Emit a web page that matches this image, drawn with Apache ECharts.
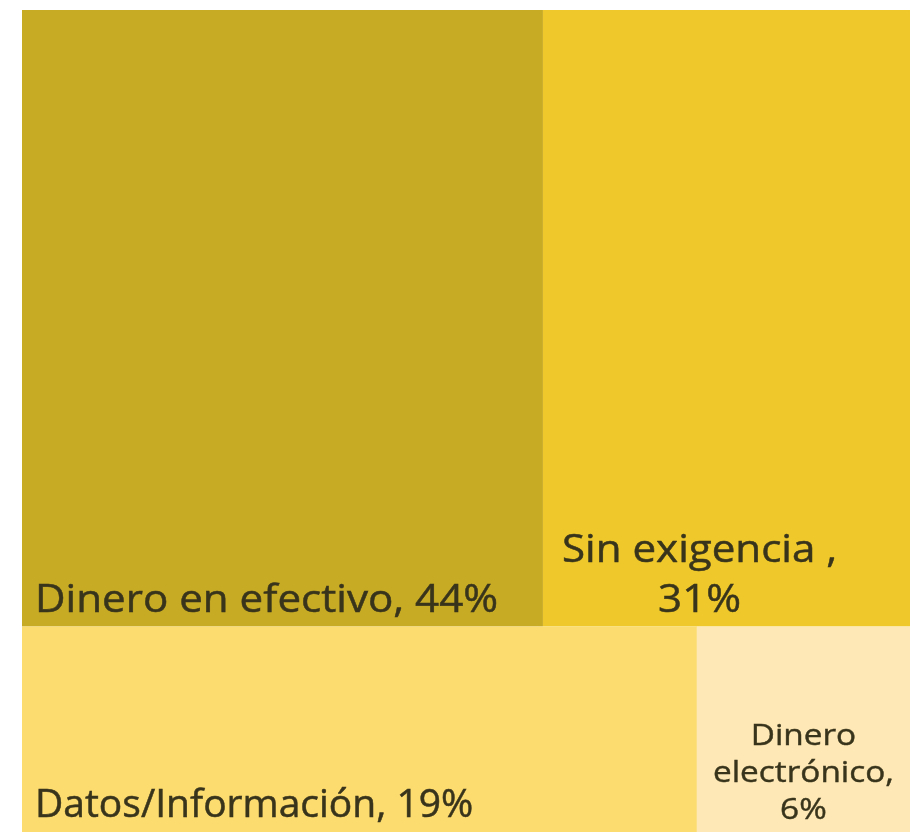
<!DOCTYPE html>
<html>
<head>
<meta charset="utf-8">
<script src="https://cdn.jsdelivr.net/npm/echarts@6/dist/echarts.min.js"></script>
<style>
  html, body { margin: 0; padding: 0; background: #ffffff; }
  #chart { width: 910px; height: 832px; }
</style>
</head>
<body>
<div id="chart"></div>
<script>
// Shares by type of demand (percent)
const categories = ['Dinero en efectivo', 'Sin exigencia ,', 'Datos/Información', 'Dinero electrónico,'];
const values = [44, 31, 19, 6];
// which horizontal band each tile sits in
const bandOf = [0, 0, 1, 1];

const palette = ['#C8AB25', '#EFC92B', '#FCDB6F', '#FEE8B5'];
const textColor = '#38341c';

// Slice-and-dice layout in percent space: bands stacked top to bottom,
// tiles side by side inside each band, sized by their values.
const total = values.reduce((a, b) => a + b, 0);
const bandSums = [];
values.forEach((v, i) => { bandSums[bandOf[i]] = (bandSums[bandOf[i]] || 0) + v; });
const bandStart = [];
let accY = 0;
bandSums.forEach((s, b) => { bandStart[b] = accY; accY += s / total * 100; });
const xAcc = {};
const tiles = values.map((v, i) => {
  const b = bandOf[i];
  const x0 = xAcc[b] || 0;
  const x1 = x0 + v / bandSums[b] * 100;
  xAcc[b] = x1;
  const y0 = bandStart[b];
  const y1 = y0 + bandSums[b] / total * 100;
  return [x0, x1, y0, y1, v];
});

// label text per tile (rich tokens: a = large, b = small)
const labelTexts = [
  '{a|' + categories[0] + ', ' + values[0] + '%}',
  '{a|' + categories[1] + '}\n{a|' + values[1] + '%}',
  '{a|' + categories[2] + ', ' + values[2] + '%}',
  '{b|Dinero}\n{b|electrónico,}\n{b|' + values[3] + '%}'
];
// label anchoring inside each tile: left inset (or centred), gap above the
// tile's bottom edge, and horizontal glyph stretch
const labelAnchor = [
  { inset: 13, bottomGap: 1, stretch: 1.08 },
  { inset: 19, bottomGap: 1, stretch: 1.08 },
  { inset: 13, bottomGap: 1, stretch: 1.0 },
  { inset: null, bottomGap: 3, stretch: 1.15 }
];

const richStyles = {
  a: { fontFamily: 'Open Sans', fontSize: 39, lineHeight: 50, fill: textColor, align: 'center',
       stroke: textColor, lineWidth: 0.5 },
  b: { fontFamily: 'Open Sans', fontSize: 29, lineHeight: 37, fill: textColor, align: 'center',
       stroke: textColor, lineWidth: 0.4 }
};

const chart = echarts.init(document.getElementById('chart'), null, { renderer: 'canvas' });
chart.setOption({
  animation: false,
  backgroundColor: '#ffffff',
  grid: { left: 22, right: 0, top: 10, bottom: 0 },
  xAxis: { type: 'value', min: 0, max: 100, show: false },
  yAxis: { type: 'value', min: 0, max: 100, inverse: true, show: false },
  series: [{
    type: 'custom',
    data: tiles,
    encode: { x: [0, 1], y: [2, 3] },
    renderItem(params, api) {
      const i = params.dataIndex;
      const p0 = api.coord([api.value(0), api.value(2)]);
      const p1 = api.coord([api.value(1), api.value(3)]);
      const w = p1[0] - p0[0];
      const h = p1[1] - p0[1];
      const anchor = labelAnchor[i];
      const centred = anchor.inset === null;
      return {
        type: 'group',
        children: [
          {
            type: 'rect',
            shape: { x: p0[0], y: p0[1], width: w, height: h },
            style: { fill: palette[i] }
          },
          {
            type: 'text',
            x: centred ? p0[0] + w / 2 : p0[0] + anchor.inset,
            y: p1[1] - anchor.bottomGap,
            scaleX: anchor.stretch,
            style: {
              text: labelTexts[i],
              x: 0,
              y: 0,
              align: centred ? 'center' : 'left',
              verticalAlign: 'bottom',
              rich: richStyles
            }
          }
        ]
      };
    }
  }]
});
</script>
</body>
</html>
